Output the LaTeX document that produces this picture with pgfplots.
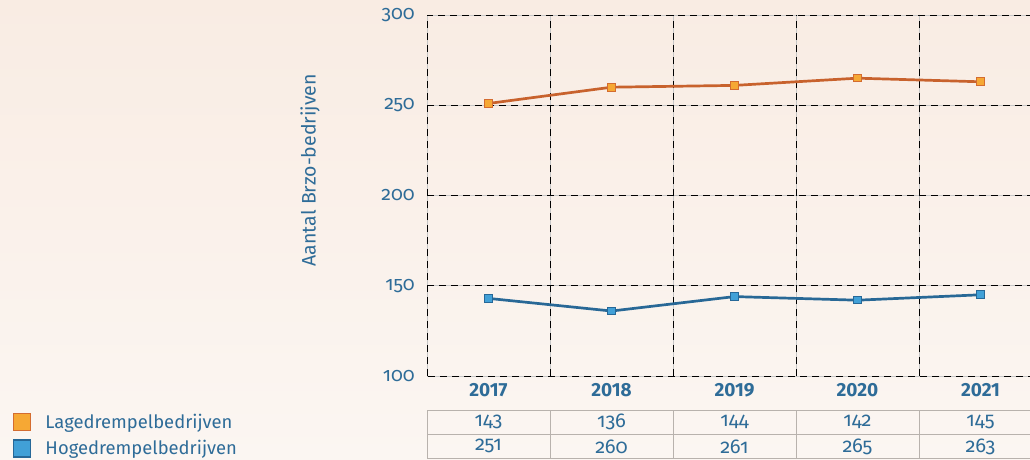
\documentclass[border=0pt]{standalone}
\usepackage{pgfplots}
\pgfplotsset{compat=1.18}
\usepackage{fontspec}
\setmainfont{Fira Sans}[Numbers=OldStyle]
\definecolor{txtblue}{RGB}{46,108,152}
\definecolor{orline}{RGB}{200,98,45}
\definecolor{orfill}{RGB}{246,168,52}
\definecolor{orborder}{RGB}{212,108,48}
\definecolor{blline}{RGB}{40,104,150}
\definecolor{blfill}{RGB}{65,160,215}
\definecolor{blborder}{RGB}{38,104,152}
\definecolor{bgtop}{RGB}{249,236,227}
\definecolor{bgbot}{RGB}{251,246,242}
\definecolor{tablegray}{RGB}{184,178,173}
\definecolor{gridgray}{RGB}{200,200,200}

\begin{document}
\begin{tikzpicture}
\fill[top color=bgtop, bottom color=bgbot] (0,0) rectangle (1030pt,459pt);
\begin{scope}
\clip (0,0) rectangle (1030pt,459pt);
\begin{axis}[
    at={(427pt,83pt)}, anchor=south west,
    scale only axis,
    width=615pt, height=361pt,
    xmin=-0.5, xmax=4.5,
    ymin=100, ymax=300,
    xtick={0,1,2,3,4},
    xticklabels={2017,2018,2019,2020,2021},
    minor xtick={-0.5,0.5,1.5,2.5,3.5,4.5},
    ytick={100,150,200,250,300},
    xminorgrids=true, ymajorgrids=true,
    grid style={gridgray, line width=0.8pt},
    minor grid style={gridgray, line width=0.8pt},
    extra x ticks={0.5,1.5,2.5,3.5},
    extra x tick labels={},
    extra y ticks={150,200,250},
    extra y tick labels={},
    extra tick style={grid=major, major grid style={black, dash pattern=on 7pt off 5pt, line width=0.8pt}},
    axis line style={black, dash pattern=on 7pt off 5pt, line width=0.8pt},
    tick style={draw=none},
    /pgf/number format/assume math mode=true,
    yticklabel style={font=\fontsize{19.5}{22}\selectfont, text=txtblue, inner sep=0pt, xshift=-12pt},
    xticklabel style={font=\fontsize{19}{22}\selectfont\bfseries\addfontfeatures{Numbers=Lining}, text=txtblue, inner sep=0pt, yshift=-7pt},
    ylabel={Aantal Brzo-bedrijven},
    ylabel style={font=\fontsize{19.5}{22}\selectfont, text=txtblue, at={(axis description cs:-0.19,0.57)}, anchor=center},
    clip=false,
    legend style={at={(axis description cs:-0.673,-0.1025)}, anchor=north west,
        draw=none, fill=none, inner sep=0pt, row sep=8pt,
        font=\fontsize{18.4}{21}\selectfont, text=txtblue,
        nodes={inner sep=0pt},
        /tikz/every odd column/.append style={column sep=14pt}},
    legend cell align=left,
]
\addplot[orline, line width=2.7pt, mark=square*, mark size=3.8pt,
    mark options={fill=orfill, draw=orborder, line width=1pt},
    legend image code/.code={\draw[draw=orborder, fill=orfill, line width=1.2pt] (0pt,-8.5pt) rectangle (17pt,8.5pt);}]
    coordinates {(0,251) (1,260) (2,261) (3,265) (4,263)};
\addlegendentry{Lagedrempelbedrijven}
\addplot[blline, line width=2.7pt, mark=square*, mark size=3.8pt,
    mark options={fill=blfill, draw=blborder, line width=1pt},
    legend image code/.code={\draw[draw=blborder, fill=blfill, line width=1.2pt] (0pt,-8.5pt) rectangle (17pt,8.5pt);}]
    coordinates {(0,143) (1,136) (2,144) (3,142) (4,145)};
\addlegendentry{Hogedrempelbedrijven}

% table below the axis
\draw[tablegray, line width=1pt] (axis cs:-0.5,81.16) -- (axis cs:4.5,81.16);
\draw[tablegray, line width=1pt] (axis cs:-0.5,67.87) -- (axis cs:4.5,67.87);
\draw[tablegray, line width=1pt] (axis cs:-0.5,54.57) -- (axis cs:4.5,54.57);
\pgfplotsinvokeforeach{-0.5,0.5,1.5,2.5,3.5,4.5}{
  \draw[tablegray, line width=1pt] (axis cs:#1,81.16) -- (axis cs:#1,54.57);
}
\addplot[forget plot, draw=none, mark=none, point meta=explicit,
    nodes near coords,
    nodes near coords style={anchor=center, font=\fontsize{20}{22}\selectfont, text=txtblue, /pgf/number format/assume math mode=true}]
    coordinates {(0,74.7)[143] (1,74.7)[136] (2,74.7)[144] (3,74.7)[142] (4,74.7)[145]};
\addplot[forget plot, draw=none, mark=none, point meta=explicit,
    nodes near coords,
    nodes near coords style={anchor=center, font=\fontsize{20}{22}\selectfont, text=txtblue, /pgf/number format/assume math mode=true}]
    coordinates {(0,61.0)[251] (1,61.0)[260] (2,61.0)[261] (3,61.0)[265] (4,61.0)[263]};
\end{axis}
\end{scope}
\pgfresetboundingbox
\useasboundingbox (0,0) rectangle (1030pt,459pt);
\end{tikzpicture}
\end{document}
